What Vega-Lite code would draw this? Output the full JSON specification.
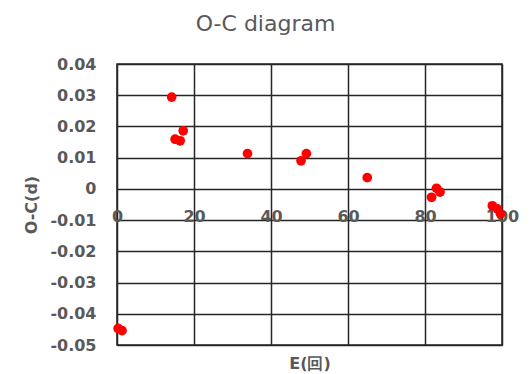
{
  "$schema": "https://vega.github.io/schema/vega-lite/v6.json",
  "autosize": "none",
  "width": 385,
  "height": 281,
  "padding": {"left": 117, "top": 64, "right": 30, "bottom": 29},
  "background": "white",
  "title": {
    "text": "O-C diagram",
    "font": "DejaVu Sans",
    "fontSize": 22,
    "fontWeight": "normal",
    "color": "#595959",
    "anchor": "middle",
    "dx": -44,
    "offset": 20
  },
  "data": {
    "values": [
      {"E": 0.3, "OC": -0.0447},
      {"E": 1.3, "OC": -0.0454},
      {"E": 14.2, "OC": 0.0294},
      {"E": 17.2, "OC": 0.0186},
      {"E": 15.1, "OC": 0.0159},
      {"E": 16.4, "OC": 0.0154},
      {"E": 33.9, "OC": 0.0113},
      {"E": 49.2, "OC": 0.0113},
      {"E": 47.8, "OC": 0.0090},
      {"E": 65.0, "OC": 0.0036},
      {"E": 83.0, "OC": 0.0002},
      {"E": 83.9, "OC": -0.0010},
      {"E": 81.7, "OC": -0.0027},
      {"E": 97.5, "OC": -0.0054},
      {"E": 98.8, "OC": -0.0064},
      {"E": 99.6, "OC": -0.0080}
    ]
  },
  "mark": {"type": "circle", "color": "#FF0000", "opacity": 1, "size": 95},
  "encoding": {
    "x": {
      "field": "E",
      "type": "quantitative",
      "scale": {"domain": [0, 100], "nice": false, "zero": false},
      "axis": {
        "title": "E(回)",
        "values": [0, 20, 40, 60, 80, 100],
        "offset": -157,
        "domain": false,
        "ticks": false,
        "labelPadding": 20,
        "labelFlush": false,
        "titleY": 175,
        "titleBaseline": "middle"
      }
    },
    "y": {
      "field": "OC",
      "type": "quantitative",
      "scale": {"domain": [-0.05, 0.04], "nice": false, "zero": false},
      "axis": {
        "title": "O-C(d)",
        "values": [-0.05, -0.04, -0.03, -0.02, -0.01, 0, 0.01, 0.02, 0.03, 0.04],
        "labelExpr": "datum.value + ''",
        "domain": false,
        "ticks": false,
        "labelPadding": 21,
        "titlePadding": 10
      }
    }
  },
  "config": {
    "view": {"stroke": "#262626", "strokeWidth": 1.5},
    "axis": {
      "grid": true,
      "gridColor": "#262626",
      "gridWidth": 1.5,
      "gridOpacity": 1,
      "labelFont": "DejaVu Sans",
      "labelFontSize": 16,
      "labelFontWeight": "bold",
      "labelColor": "#595959",
      "titleFont": "DejaVu Sans",
      "titleFontSize": 16,
      "titleFontWeight": "bold",
      "titleColor": "#595959"
    }
  }
}
